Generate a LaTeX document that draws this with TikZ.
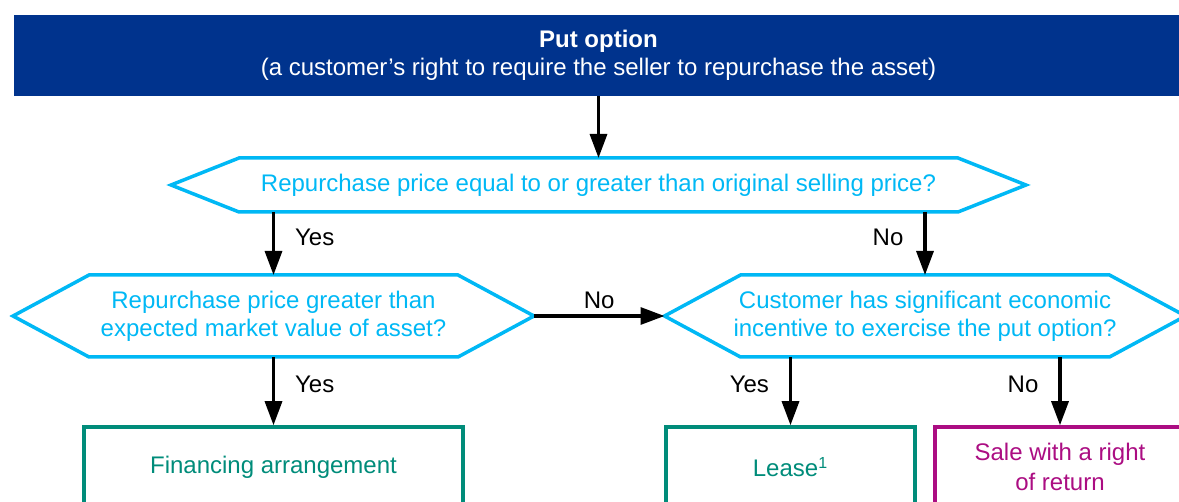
\documentclass[tikz,border=0pt]{standalone}
\usepackage{fontspec}
\setmainfont{Liberation Sans}
\usetikzlibrary{arrows.meta,calc,positioning}
\definecolor{kblue}{RGB}{0,51,141}
\definecolor{kcyan}{RGB}{0,184,245}
\definecolor{kteal}{RGB}{0,140,122}
\definecolor{kpink}{RGB}{171,13,130}

\begin{document}
\begin{tikzpicture}[x=0.5pt, y=-0.5pt, auto, >={Triangle[length=12pt,width=8.5pt]},
  flow/.style={->, line width=1.6pt, black},
  ask/.style={text=kcyan, align=center, inner xsep=-8pt, inner ysep=0pt, outer sep=0pt, font=\fontsize{12}{14}\selectfont},
  hexline/.style={draw=kcyan, line width=1.75pt},
  outcome/.style={draw=#1, text=#1, line width=1.75pt, minimum height=40pt, align=center, font=\fontsize{12}{15}\selectfont},
  answer/.style={font=\fontsize{12}{14}\selectfont, inner xsep=10pt, inner ysep=3pt}]
\useasboundingbox (0,0) rectangle (1179,502);

\node (top)[fill=kblue, text=white, minimum width=585pt, minimum height=40.5pt, align=center, font=\fontsize{12}{14}\selectfont] at (598.5,55.5)
  {\textbf{Put option}\\(a customer’s right to require the seller to repurchase the asset)};
\node (q1)[ask, minimum width=359.5pt, minimum height=27pt] at (598.5,185) {Repurchase price equal to or greater than original selling price?};
\node (q2)[ask, minimum width=184.5pt, minimum height=41pt] at (273.5,316) {Repurchase price greater than\\expected market value of asset?};
\node (q3)[ask, minimum width=184.5pt, minimum height=41pt] at (925,316) {Customer has significant economic\\incentive to exercise the put option?};
\node (fin)[outcome=kteal, minimum width=189.5pt] at (273.5,467) {Financing arrangement};
\node (lease)[outcome=kteal, minimum width=124.5pt] at (790.5,467) {Lease\textsuperscript{1}};
\node (sale)[outcome=kpink, minimum width=125pt] at (1060,467) {Sale with a right\\of return};

% hexagon outlines round the questions
\foreach \n/\d in {q1/68,q2/76,q3/76}{
  \coordinate (\n-l) at ($(\n.west)+(-\d,0)$);
  \coordinate (\n-r) at ($(\n.east)+(\d,0)$);
  \draw[hexline] (\n.north west) -- (\n.north east) -- (\n-r) -- (\n.south east) -- (\n.south west) -- (\n-l) -- cycle;
}

\path (top) edge[flow] (q1)
      (q1.south -| q2.north) edge[flow] node[answer, pos=0.4]{Yes} (q2)
      (q1.south -| q3.north) edge[flow] node[answer, swap, pos=0.4]{No} (q3)
      (q2-r) edge[flow] node[answer]{No} (q3-l)
      (q2.south -| fin.north) edge[flow] node[answer, pos=0.4]{Yes} (fin)
      (q3.south -| lease.north) edge[flow] node[answer, swap, pos=0.4]{Yes} (lease)
      (q3.south -| sale.north) edge[flow] node[answer, swap, pos=0.4]{No} (sale);
\end{tikzpicture}
\end{document}
